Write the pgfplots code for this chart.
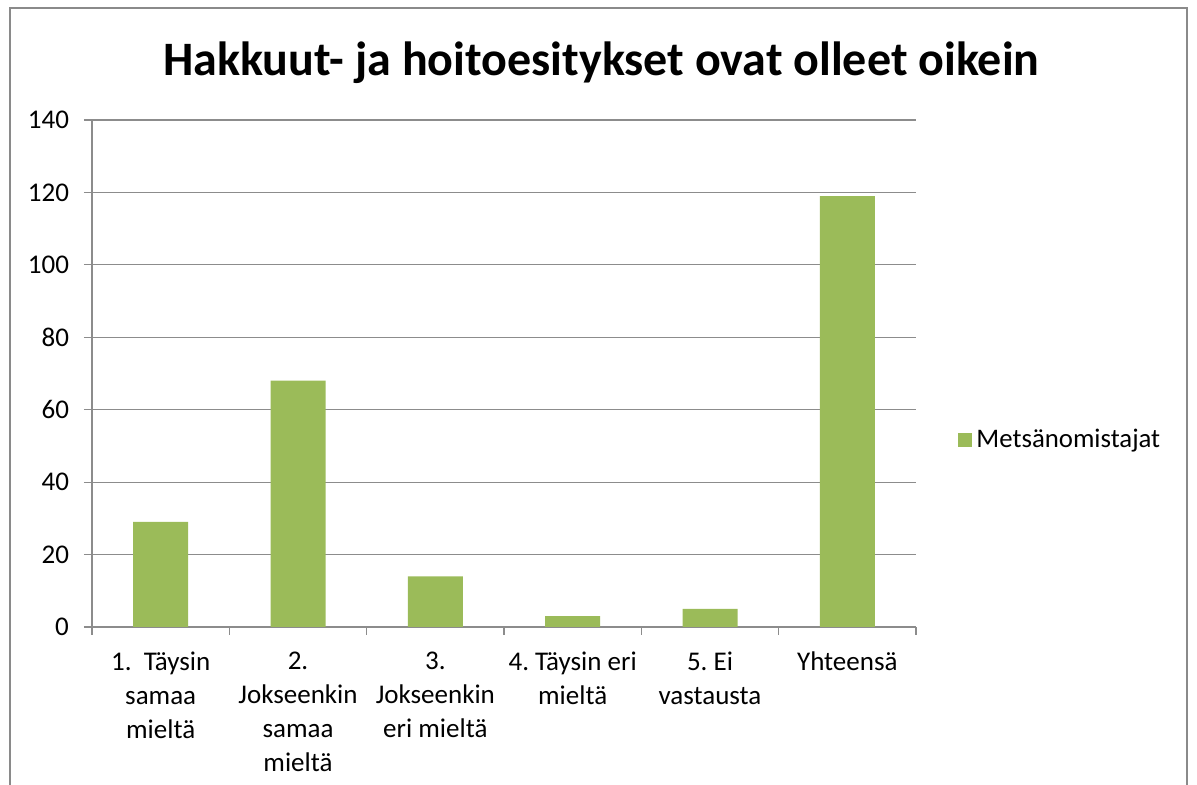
\documentclass[border=0pt]{standalone}
\usepackage{pgfplots}
\pgfplotsset{compat=1.18}
\usepackage{fontspec}
\setmainfont{Carlito}
\frenchspacing
\definecolor{bargreen}{HTML}{9BBB59}
\definecolor{gridgray}{HTML}{8C8C8C}
\definecolor{framegray}{HTML}{8A8A8A}
\begin{document}
\begin{tikzpicture}
\useasboundingbox (0,0) rectangle (598.5pt,392.5pt);
% chart frame (bottom edge cut off as in the screenshot)
\draw[framegray, line width=1pt] (5pt,0) -- (5pt,388.5pt) -- (593.5pt,388.5pt) -- (593.5pt,0);
\begin{axis}[
    at={(46pt,79pt)}, anchor=south west,
    scale only axis,
    width=412pt, height=253.5pt,
    ybar, bar width=27.5pt, bar shift=0pt,
    xmin=-0.5, xmax=5.5,
    ymin=0, ymax=140,
    ytick distance=20,
    xtick={0,...,5},
    xticklabels={{1.~~Täysin\\samaa\\mieltä},{2.\\Jokseenkin\\samaa\\mieltä},{3.\\Jokseenkin\\eri mieltä},{4. Täysin eri\\mieltä},{5. Ei\\vastausta},{Yhteensä}},
    minor xtick={-0.5,0.5,...,5.5},
    major x tick style={draw=none},
    minor tick length=4pt,
    major tick length=4pt,
    tick align=outside,
    tick style={gridgray, line width=0.6pt},
    axis x line*=bottom, axis y line*=left,
    axis line style={gridgray, line width=0.6pt, -},
    ymajorgrids,
    major grid style={gridgray, line width=0.6pt},
    /pgf/number format/assume math mode=true,
    ticklabel style={font=\fontsize{13.5pt}{17pt}\selectfont, text=black},
    xticklabel style={align=center, yshift=-5pt},
    yticklabel style={xshift=-4pt},
    title={\bfseries Hakkuut- ja hoitoesitykset ovat olleet oikein},
    title style={at={(axis description cs:0.618,1.09)}, anchor=center, font=\fontsize{24pt}{28pt}\selectfont\bfseries},
    legend style={at={(axis description cs:1.051,0.369)}, anchor=west, draw=none, fill=none,
        font=\fontsize{13.4pt}{16pt}\selectfont, inner sep=0pt},
    legend image code/.code={\fill[bargreen] (0pt,-3.5pt) rectangle (7pt,3.5pt);},
]
\addplot[fill=bargreen, draw=none] coordinates {(0,29) (1,68) (2,14) (3,3) (4,5) (5,119)};
\addlegendentry{Metsänomistajat}
\end{axis}
\end{tikzpicture}
\end{document}
